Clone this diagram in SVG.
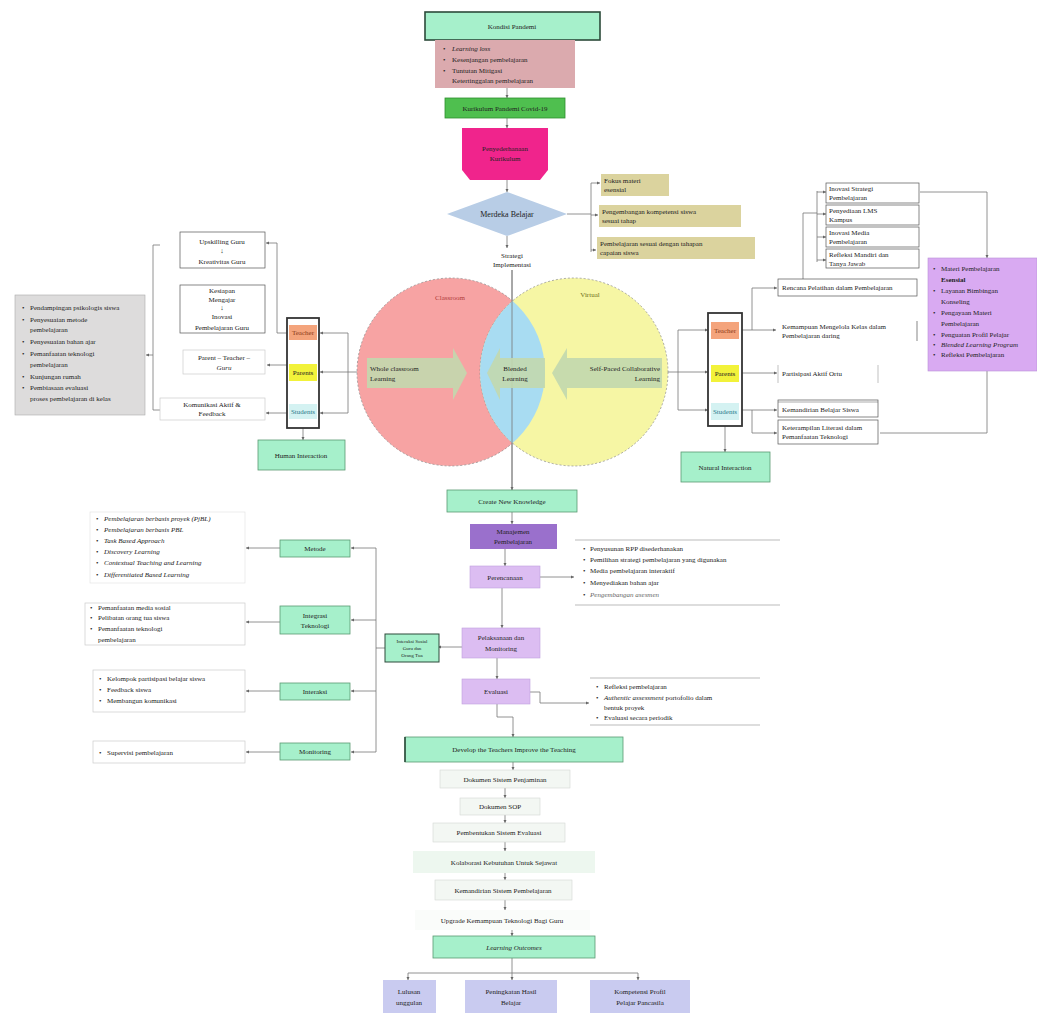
<svg xmlns="http://www.w3.org/2000/svg" width="1037" height="1013" viewBox="0 0 1037 1013">
<defs>
<marker id="a" viewBox="0 0 6 6" refX="6" refY="3" markerWidth="4" markerHeight="4" orient="auto"><path d="M0,0 L6,3 L0,6 z" fill="#666"/></marker>
<clipPath id="lc"><circle cx="451" cy="372" r="94"/></clipPath>
<style>
text{font-family:"Liberation Serif","Times New Roman",serif;font-size:7px;fill:#222}
.c{text-anchor:middle}
.i{font-style:italic}
.ln{stroke:#777;stroke-width:0.8;fill:none}
.ar{stroke:#777;stroke-width:0.8;fill:none;marker-end:url(#a)}
.mint{fill:#a6f0cb;stroke:#5a9a72;stroke-width:0.8}
.lav{fill:#dcbdf2;stroke:#c0a0dc;stroke-width:0.6}
.wb{fill:#fff;stroke:#555;stroke-width:0.7}
.lb{fill:#fff;stroke:#ccc;stroke-width:0.7}
.kh{fill:#dbd39e;stroke:none}
.pale{fill:#f3f7f3;stroke:#d4d8d4;stroke-width:0.6}
.bl{fill:#c9cbf0;stroke:none}
</style>
</defs>
<rect width="1037" height="1013" fill="#fff"/>

<g id="connectors">
<path class="ar" d="M507,88 V98"/>
<path class="ar" d="M507,118 V128"/>
<path class="ar" d="M507,180 V192"/>
<path class="ar" d="M507,236 V248"/>
<path class="ln" d="M567,214 H591 M591,183 V252"/>
<path class="ar" d="M591,183 H600"/>
<path class="ar" d="M591,215 H598"/>
<path class="ar" d="M591,250 H596"/>
<path class="ar" d="M512,270 V490"/>
<!-- left venn -->
<path class="ln" d="M357,372 H348 M348,333 V413"/>
<path class="ar" d="M348,333 H320"/>
<path class="ar" d="M348,372 H320"/>
<path class="ar" d="M348,413 H320"/>
<path class="ln" d="M287,333 H277 V243"/>
<path class="ar" d="M277,243 H266"/>
<path class="ar" d="M287,365 H267"/>
<path class="ar" d="M287,413 H266"/>
<path class="ln" d="M160,245 H153 V410 H160"/>
<path class="ar" d="M153,355 H146"/>
<path class="ar" d="M303,428 V440"/>
<!-- right venn -->
<path class="ln" d="M668,372 H678 M678,330 V410"/>
<path class="ar" d="M678,330 H708"/>
<path class="ar" d="M678,372 H708"/>
<path class="ar" d="M678,410 H708"/>
<path class="ar" d="M742,330 H776"/>
<path class="ar" d="M742,373 H777"/>
<path class="ar" d="M742,410 H777"/>
<path class="ln" d="M752,330 V288"/>
<path class="ar" d="M752,288 H777"/>
<path class="ln" d="M752,410 V433"/>
<path class="ar" d="M752,433 H777"/>
<path class="ln" d="M803,279 V213 H817 M817,191 V262"/>
<path class="ar" d="M817,192 H826"/>
<path class="ar" d="M817,214 H826"/>
<path class="ar" d="M817,237 H826"/>
<path class="ar" d="M817,260 H826"/>
<path class="ar" d="M920,192 H987 V258"/>
<path class="ln" d="M987,371 V433 H880"/>
<path class="ar" d="M725,426 V452"/>
<!-- center -->
<path class="ar" d="M512,512 V524"/>
<path class="ar" d="M505,549 V566"/>
<path class="ar" d="M540,577 H574"/>
<path class="ar" d="M502,588 V628"/>
<path class="ar" d="M462,647 H438"/>
<path class="ln" d="M385,648 H376"/>
<path class="ar" d="M497,658 V679"/>
<path class="ar" d="M530,692 H540 V703 H589"/>
<path class="ar" d="M497,704 V717 H513 V737"/>
<path class="ar" d="M513,762 V770"/>
<path class="ar" d="M505,788 V798"/>
<path class="ar" d="M505,815 V823"/>
<path class="ar" d="M505,842 V851"/>
<path class="ar" d="M505,873 V880"/>
<path class="ar" d="M505,900 V910"/>
<path class="ar" d="M512,930 V936"/>
<path class="ln" d="M512,958 V973 M408,973 H638"/>
<path class="ar" d="M408,973 V980"/>
<path class="ar" d="M512,973 V980"/>
<path class="ar" d="M638,973 V980"/>
<!-- left middle -->
<path class="ln" d="M376,548 V752"/>
<path class="ar" d="M376,548 H351"/>
<path class="ar" d="M376,620 H351"/>
<path class="ar" d="M376,691 H351"/>
<path class="ar" d="M376,752 H351"/>
<path class="ar" d="M280,548 H246"/>
<path class="ar" d="M280,622 H246"/>
<path class="ar" d="M280,691 H246"/>
<path class="ar" d="M280,752 H246"/>
</g>

<g id="n-kondisi"><rect x="425" y="12" width="175" height="28" fill="#a6f0cb" stroke="#2c4a3a" stroke-width="1.6"/><text class="c" x="512" y="29">Kondisi Pandemi</text></g>
<g id="n-masalah"><rect x="435" y="40" width="140" height="48" fill="#dbaaae"/>
<text x="443" y="51">•</text><text class="i" x="452" y="51">Learning loss</text>
<text x="443" y="62">•</text><text x="452" y="62">Kesenjangan pembelajaran</text>
<text x="443" y="73">•</text><text x="452" y="73">Tuntutan Mitigasi</text>
<text x="452" y="83">Ketertinggalan pembelajaran</text></g>
<g id="n-kurikulum"><rect x="445" y="98" width="120" height="20" fill="#4fbf4f" stroke="#2f8f2f" stroke-width="0.8"/><text class="c" x="505" y="111">Kurikulum Pandemi Covid-19</text></g>
<g id="n-penyederhanaan"><path d="M462,128 H548 V170 L540,180 H470 L462,170 Z" fill="#f0248c"/><text class="c" x="505" y="151">Penyederhanaan</text><text class="c" x="505" y="161">Kurikulum</text></g>
<g id="n-merdeka"><polygon points="507,192 567,214 507,236 447,214" fill="#b8cde6"/><text class="c" x="507" y="217" style="font-size:8px">Merdeka Belajar</text></g>
<g id="n-k1"><rect class="kh" x="601" y="174" width="68" height="22"/><text x="604" y="183">Fokus materi</text><text x="604" y="192">esensial</text></g>
<g id="n-k2"><rect class="kh" x="599" y="205" width="142" height="22"/><text x="602" y="214">Pengembangan kompetensi siswa</text><text x="602" y="223">sesuai tahap</text></g>
<g id="n-k3"><rect class="kh" x="597" y="237" width="158" height="22"/><text x="600" y="246">Pembelajaran sesuai dengan tahapan</text><text x="600" y="255">capaian siswa</text></g>
<g id="n-strategi"><text class="c" x="512" y="258">Strategi</text><text class="c" x="512" y="267">Implementasi</text></g>

<g id="n-venn">
<circle cx="451" cy="372" r="94" fill="#f7a3a3" stroke="#888" stroke-width="0.7" stroke-dasharray="2,2"/>
<circle cx="574" cy="372" r="94" fill="#f6f6a4" stroke="#888" stroke-width="0.7" stroke-dasharray="2,2"/>
<circle cx="574" cy="372" r="94" fill="#a8dcf2" clip-path="url(#lc)"/>
<path d="M512,372" class="ln"/>
<line x1="512" y1="270" x2="512" y2="490" stroke="#777" stroke-width="0.8"/>
<text class="c" x="450" y="300" style="fill:#b03a3a">Classroom</text>
<text class="c" x="590" y="297" style="fill:#707020">Virtual</text>
<polygon points="367,358 453,358 453,348 467,373 453,400 453,388 367,388" fill="#c2d8ae" opacity="0.9"/>
<text x="370" y="371">Whole classroom</text><text x="370" y="381">Learning</text>
<polygon points="545,358 500,358 500,348 487,373 500,400 500,388 545,388" fill="#c2d8ae" opacity="0.9"/>
<text class="c" x="515" y="371">Blended</text><text class="c" x="515" y="381">Learning</text>
<polygon points="662,358 567,358 567,348 552,373 567,400 567,388 662,388" fill="#c2d8ae" opacity="0.9"/>
<text x="660" y="371" style="text-anchor:end">Self-Paced Collaborative</text><text x="660" y="381" style="text-anchor:end">Learning</text>
</g>

<g id="n-lbar"><rect x="287" y="318" width="32" height="110" fill="#fff" stroke="#333" stroke-width="1.8"/>
<rect x="289" y="325" width="28" height="15" fill="#f4a47c"/><text class="c" x="303" y="335" style="fill:#8a3a18">Teacher</text>
<rect x="289" y="364" width="28" height="17" fill="#f2f23a"/><text class="c" x="303" y="375">Parents</text>
<rect x="289" y="404" width="28" height="15" fill="#d4f2f2"/><text class="c" x="303" y="414" style="fill:#2a7a8a">Students</text></g>
<g id="n-up"><rect class="wb" x="180" y="232" width="85" height="36"/><text class="c" x="222" y="244">Upskilling Guru</text><text class="c" x="222" y="253">↓</text><text class="c" x="222" y="264">Kreativitas Guru</text></g>
<g id="n-kes"><rect class="wb" x="180" y="285" width="85" height="48"/><text class="c" x="222" y="293">Kesiapan</text><text class="c" x="222" y="302">Mengajar</text><text class="c" x="222" y="310">↓</text><text class="c" x="222" y="319">Inovasi</text><text class="c" x="222" y="330">Pembelajaran Guru</text></g>
<g id="n-ptg"><rect class="lb" x="183" y="350" width="82" height="24"/><text class="c" x="224" y="360">Parent – Teacher –</text><text class="c i" x="224" y="370">Guru</text></g>
<g id="n-kom"><rect class="lb" x="160" y="398" width="105" height="22"/><text class="c" x="212" y="407">Komunikasi Aktif &amp;</text><text class="c" x="212" y="416">Feedback</text></g>
<g id="n-gray"><rect x="15" y="295" width="130" height="120" fill="#dddcdc" stroke="#aaa" stroke-width="0.6"/>
<text x="22" y="310">•</text><text x="30" y="310">Pendampingan psikologis siswa</text>
<text x="22" y="322">•</text><text x="30" y="322">Penyesuaian metode</text><text x="30" y="332">pembelajaran</text>
<text x="22" y="344">•</text><text x="30" y="344">Penyesuaian bahan ajar</text>
<text x="22" y="356">•</text><text x="30" y="356">Pemanfaatan teknologi</text><text x="30" y="367">pembelajaran</text>
<text x="22" y="379">•</text><text x="30" y="379">Kunjungan rumah</text>
<text x="22" y="390">•</text><text x="30" y="390">Pembiasaan evaluasi</text><text x="30" y="401">proses pembelajaran di kelas</text></g>
<g id="n-human"><rect class="mint" x="258" y="440" width="87" height="30"/><text class="c" x="301" y="458">Human Interaction</text></g>

<g id="n-rbar"><rect x="708" y="313" width="34" height="113" fill="#fff" stroke="#333" stroke-width="1.8"/>
<rect x="711" y="322" width="28" height="17" fill="#f4a47c"/><text class="c" x="725" y="333" style="fill:#8a3a18">Teacher</text>
<rect x="711" y="365" width="28" height="17" fill="#f2f23a"/><text class="c" x="725" y="376">Parents</text>
<rect x="711" y="403" width="28" height="17" fill="#d4f2f2"/><text class="c" x="725" y="414" style="fill:#2a7a8a">Students</text></g>
<g id="n-r1"><rect class="wb" x="778" y="279" width="139" height="17"/><text x="782" y="290">Rencana Pelatihan dalam Pembelajaran</text></g>
<g id="n-r2"><line x1="917" y1="321" x2="917" y2="341" stroke="#555" stroke-width="0.7"/><text x="782" y="329">Kemampuan Mengelola Kelas dalam</text><text x="782" y="338">Pembelajaran daring</text></g>
<g id="n-r3"><path d="M778,365 V383 M878,365 V383" stroke="#999" stroke-width="0.6"/><text x="782" y="376">Partisipasi Aktif Ortu</text></g>
<g id="n-r4"><rect class="wb" x="778" y="400" width="100" height="17"/><line x1="778" y1="402" x2="878" y2="402" stroke="#555" stroke-width="0.5"/><text x="782" y="412">Kemandirian Belajar Siswa</text></g>
<g id="n-r5"><rect class="wb" x="778" y="420" width="100" height="24"/><text x="782" y="430">Keterampilan Literasi dalam</text><text x="782" y="439">Pemanfaatan Teknologi</text></g>
<g id="n-s1"><rect class="wb" x="826" y="183" width="93" height="20"/><text x="829" y="191">Inovasi Strategi</text><text x="829" y="200">Pembelajaran</text></g>
<g id="n-s2"><rect class="wb" x="826" y="205" width="93" height="20"/><text x="829" y="213">Penyediaan LMS</text><text x="829" y="222">Kampus</text></g>
<g id="n-s3"><rect class="wb" x="826" y="227" width="93" height="20"/><text x="829" y="235">Inovasi Media</text><text x="829" y="244">Pembelajaran</text></g>
<g id="n-s4"><rect class="wb" x="826" y="249" width="93" height="19"/><text x="829" y="257">Refleksi Mandiri dan</text><text x="829" y="266">Tanya Jawab</text></g>
<g id="n-purple"><rect x="928" y="258" width="109" height="113" fill="#d9aaf2" stroke="#b890d6" stroke-width="0.6"/>
<text x="933" y="271">•</text><text x="941" y="271">Materi Pembelajaran</text><text x="941" y="282" style="font-weight:bold">Esensial</text>
<text x="933" y="293">•</text><text x="941" y="293">Layanan Bimbingan</text><text x="941" y="304">Konseling</text>
<text x="933" y="315">•</text><text x="941" y="315">Pengayaan Materi</text><text x="941" y="326">Pembelajaran</text>
<text x="933" y="337">•</text><text x="941" y="337">Penguatan Profil Pelajar</text>
<text x="933" y="347">•</text><text class="i" x="941" y="347">Blended Learning Program</text>
<text x="933" y="357">•</text><text x="941" y="357">Refleksi Pembelajaran</text></g>
<g id="n-natural"><rect class="mint" x="681" y="452" width="89" height="30"/><text class="c" x="725" y="470">Natural Interaction</text></g>

<g id="n-create"><rect class="mint" x="447" y="490" width="130" height="22"/><text class="c" x="512" y="504">Create New Knowledge</text></g>
<g id="n-manajemen"><rect x="470" y="524" width="87" height="25" fill="#9a70cc"/><text class="c" x="513" y="534">Manajemen</text><text class="c" x="513" y="544">Pembelajaran</text></g>
<g id="n-perencanaan"><rect class="lav" x="470" y="566" width="70" height="22"/><text class="c" x="505" y="580">Perencanaan</text></g>
<g id="n-plist"><path d="M575,540 H780 M575,605 H780" stroke="#aaa" stroke-width="0.8"/>
<text x="583" y="551">•</text><text x="590" y="551">Penyusunan RPP disederhanakan</text>
<text x="583" y="562">•</text><text x="590" y="562">Pemilihan strategi pembelajaran yang digunakan</text>
<text x="583" y="573">•</text><text x="590" y="573">Media pembelajaran interaktif</text>
<text x="583" y="585">•</text><text x="590" y="585">Menyediakan bahan ajar</text>
<text x="583" y="597">•</text><text class="i" x="590" y="597" style="fill:#666">Pengembangan asesmen</text></g>
<g id="n-pelaksanaan"><rect class="lav" x="462" y="628" width="78" height="30"/><text class="c" x="501" y="640">Pelaksanaan dan</text><text class="c" x="501" y="651">Monitoring</text></g>
<g id="n-interaksi-s"><rect x="385" y="634" width="54" height="28" fill="#a6f0cb" stroke="#2c4a3a" stroke-width="1"/><text class="c" x="412" y="643" style="font-size:5px">Interaksi Sosial</text><text class="c" x="412" y="650" style="font-size:5px">Guru dan</text><text class="c" x="412" y="657" style="font-size:5px">Orang Tua</text></g>
<g id="n-evaluasi"><rect class="lav" x="462" y="679" width="68" height="25"/><text class="c" x="496" y="694">Evaluasi</text></g>
<g id="n-elist"><path d="M590,678 H760 M590,725 H760" stroke="#aaa" stroke-width="0.8"/>
<text x="596" y="689">•</text><text x="604" y="689">Refleksi pembelajaran</text>
<text x="596" y="700">•</text><text x="604" y="700"><tspan class="i">Authentic assessment</tspan> portofolio dalam</text><text x="604" y="710">bentuk proyek</text>
<text x="596" y="720">•</text><text x="604" y="720">Evaluasi secara periodik</text></g>
<g id="n-develop"><rect class="mint" x="405" y="737" width="218" height="25"/><line x1="405" y1="737" x2="405" y2="762" stroke="#2c4a3a" stroke-width="1.6"/><text class="c" x="514" y="752">Develop the Teachers Improve the Teaching</text></g>
<g id="n-d1"><rect class="pale" x="440" y="770" width="130" height="18"/><text class="c" x="505" y="782">Dokumen Sistem Penjaminan</text></g>
<g id="n-d2"><rect class="pale" x="460" y="798" width="80" height="17"/><text class="c" x="500" y="809">Dokumen SOP</text></g>
<g id="n-d3"><rect class="pale" x="433" y="823" width="132" height="19"/><text class="c" x="499" y="835">Pembentukan Sistem Evaluasi</text></g>
<g id="n-d4"><rect x="413" y="851" width="182" height="22" fill="#edf7ef"/><text class="c" x="504" y="865">Kolaborasi Kebutuhan Untuk Sejawat</text></g>
<g id="n-d5"><rect class="pale" x="435" y="880" width="137" height="20"/><text class="c" x="503" y="893">Kemandirian Sistem Pembelajaran</text></g>
<g id="n-d6"><rect x="415" y="910" width="175" height="20" fill="#fafcfa"/><text class="c" x="502" y="923">Upgrade Kemampuan Teknologi Bagi Guru</text></g>
<g id="n-outcomes"><rect class="mint" x="433" y="936" width="162" height="22"/><text class="c i" x="514" y="950">Learning Outcomes</text></g>
<g id="n-o1"><rect class="bl" x="383" y="980" width="53" height="33"/><text class="c" x="409" y="994">Lulusan</text><text class="c" x="409" y="1005">unggulan</text></g>
<g id="n-o2"><rect class="bl" x="465" y="980" width="92" height="33"/><text class="c" x="511" y="994">Peningkatan Hasil</text><text class="c" x="511" y="1005">Belajar</text></g>
<g id="n-o3"><rect class="bl" x="590" y="980" width="100" height="33"/><text class="c" x="640" y="994">Kompetensi Profil</text><text class="c" x="640" y="1005">Pelajar Pancasila</text></g>

<g id="n-metode"><rect class="mint" x="280" y="540" width="70" height="17"/><text class="c" x="315" y="551">Metode</text></g>
<g id="n-integrasi"><rect class="mint" x="280" y="606" width="70" height="28"/><text class="c" x="315" y="618">Integrasi</text><text class="c" x="315" y="628">Teknologi</text></g>
<g id="n-interaksi"><rect class="mint" x="280" y="683" width="70" height="17"/><text class="c" x="315" y="694">Interaksi</text></g>
<g id="n-monitoring"><rect class="mint" x="280" y="743" width="70" height="17"/><text class="c" x="315" y="754">Monitoring</text></g>
<g id="n-mlist"><rect class="lb" x="90" y="512" width="155" height="71" style="stroke:#e4e4e4"/>
<text x="96" y="521">•</text><text class="i" x="104" y="521">Pembelajaran berbasis proyek (PjBL)</text>
<text x="96" y="532">•</text><text class="i" x="104" y="532">Pembelajaran berbasis PBL</text>
<text x="96" y="543">•</text><text class="i" x="104" y="543">Task Based Approach</text>
<text x="96" y="554">•</text><text class="i" x="104" y="554">Discovery Learning</text>
<text x="96" y="565">•</text><text class="i" x="104" y="565">Contextual Teaching and Learning</text>
<text x="96" y="577">•</text><text class="i" x="104" y="577">Differentiated Based Learning</text></g>
<g id="n-ilist"><rect class="lb" x="85" y="603" width="160" height="42"/>
<text x="90" y="610">•</text><text x="98" y="610">Pemanfaatan media sosial</text>
<text x="90" y="620">•</text><text x="98" y="620">Pelibatan orang tua siswa</text>
<text x="90" y="631">•</text><text x="98" y="631">Pemanfaatan teknologi</text><text x="98" y="642">pembelajaran</text></g>
<g id="n-xlist"><rect class="lb" x="93" y="670" width="152" height="42"/>
<text x="99" y="681">•</text><text x="107" y="681">Kelompok partisipasi belajar siswa</text>
<text x="99" y="692">•</text><text x="107" y="692">Feedback siswa</text>
<text x="99" y="703">•</text><text x="107" y="703">Membangun komunikasi</text></g>
<g id="n-molist"><rect class="lb" x="93" y="741" width="152" height="22"/>
<text x="99" y="755">•</text><text x="107" y="755">Supervisi pembelajaran</text></g>
</svg>
